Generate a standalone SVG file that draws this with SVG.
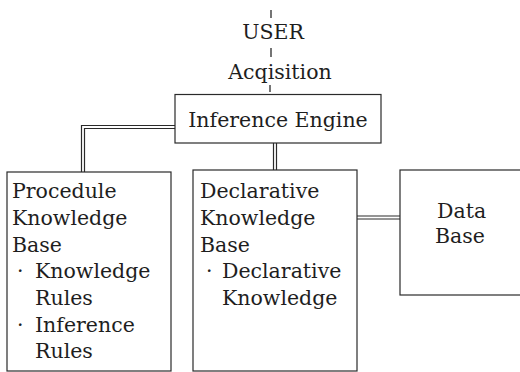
<svg xmlns="http://www.w3.org/2000/svg" width="520" height="372" viewBox="0 0 520 372">
  <style>
    .box { fill: #fff; stroke: #2a2a2a; stroke-width: 1.2; }
    .t { font-family: "DejaVu Serif", "Liberation Serif", serif; font-size: 20.5px; fill: #1e1e1e; }
    .dl-outer { fill: none; stroke: #2a2a2a; stroke-width: 4.2; }
    .dl-inner { fill: none; stroke: #fff; stroke-width: 1.8; }
    .tick { stroke: #2a2a2a; stroke-width: 1.3; }
  </style>
  <rect width="520" height="372" fill="#fff"/>

  <!-- user / acquisition entry with short dashed feed line -->
  <g id="user-input">
    <line class="tick" x1="271" y1="10" x2="271" y2="18"/>
    <text class="t" x="273" y="39" text-anchor="middle">USER</text>
    <line class="tick" x1="271" y1="48" x2="271" y2="57"/>
    <text class="t" x="280" y="79" text-anchor="middle">Acqisition</text>
    <line class="tick" x1="270" y1="85" x2="270" y2="92"/>
  </g>

  <!-- double-line connectors -->
  <g id="connectors">
    <path class="dl-outer" d="M175,127 H83 V172"/>
    <path class="dl-outer" d="M275,143 V170"/>
    <path class="dl-outer" d="M357,217.5 H400"/>
    <path class="dl-inner" d="M175,127 H83 V172"/>
    <path class="dl-inner" d="M275,143 V170"/>
    <path class="dl-inner" d="M357,217.5 H400"/>
  </g>

  <g id="inference-engine">
    <rect class="box" x="175" y="94.5" width="206" height="48.5"/>
    <text class="t" x="278" y="127" text-anchor="middle">Inference Engine</text>
  </g>

  <g id="procedural-kb">
    <rect class="box" x="7" y="172" width="164" height="199"/>
    <text class="t" x="12" y="198">Procedule</text>
    <text class="t" x="12" y="225">Knowledge</text>
    <text class="t" x="12" y="252">Base</text>
    <text class="t" x="17" y="278">·</text>
    <text class="t" x="35" y="278">Knowledge</text>
    <text class="t" x="35" y="305">Rules</text>
    <text class="t" x="17" y="332">·</text>
    <text class="t" x="35" y="332">Inference</text>
    <text class="t" x="35" y="358">Rules</text>
  </g>

  <g id="declarative-kb">
    <rect class="box" x="193" y="170" width="164" height="201"/>
    <text class="t" x="200" y="198">Declarative</text>
    <text class="t" x="200" y="225">Knowledge</text>
    <text class="t" x="200" y="252">Base</text>
    <text class="t" x="206" y="278">·</text>
    <text class="t" x="222" y="278">Declarative</text>
    <text class="t" x="222" y="305">Knowledge</text>
  </g>

  <g id="data-base">
    <rect class="box" x="400" y="170" width="130" height="125"/>
    <text class="t" x="437" y="218">Data</text>
    <text class="t" x="435" y="243">Base</text>
  </g>
</svg>
